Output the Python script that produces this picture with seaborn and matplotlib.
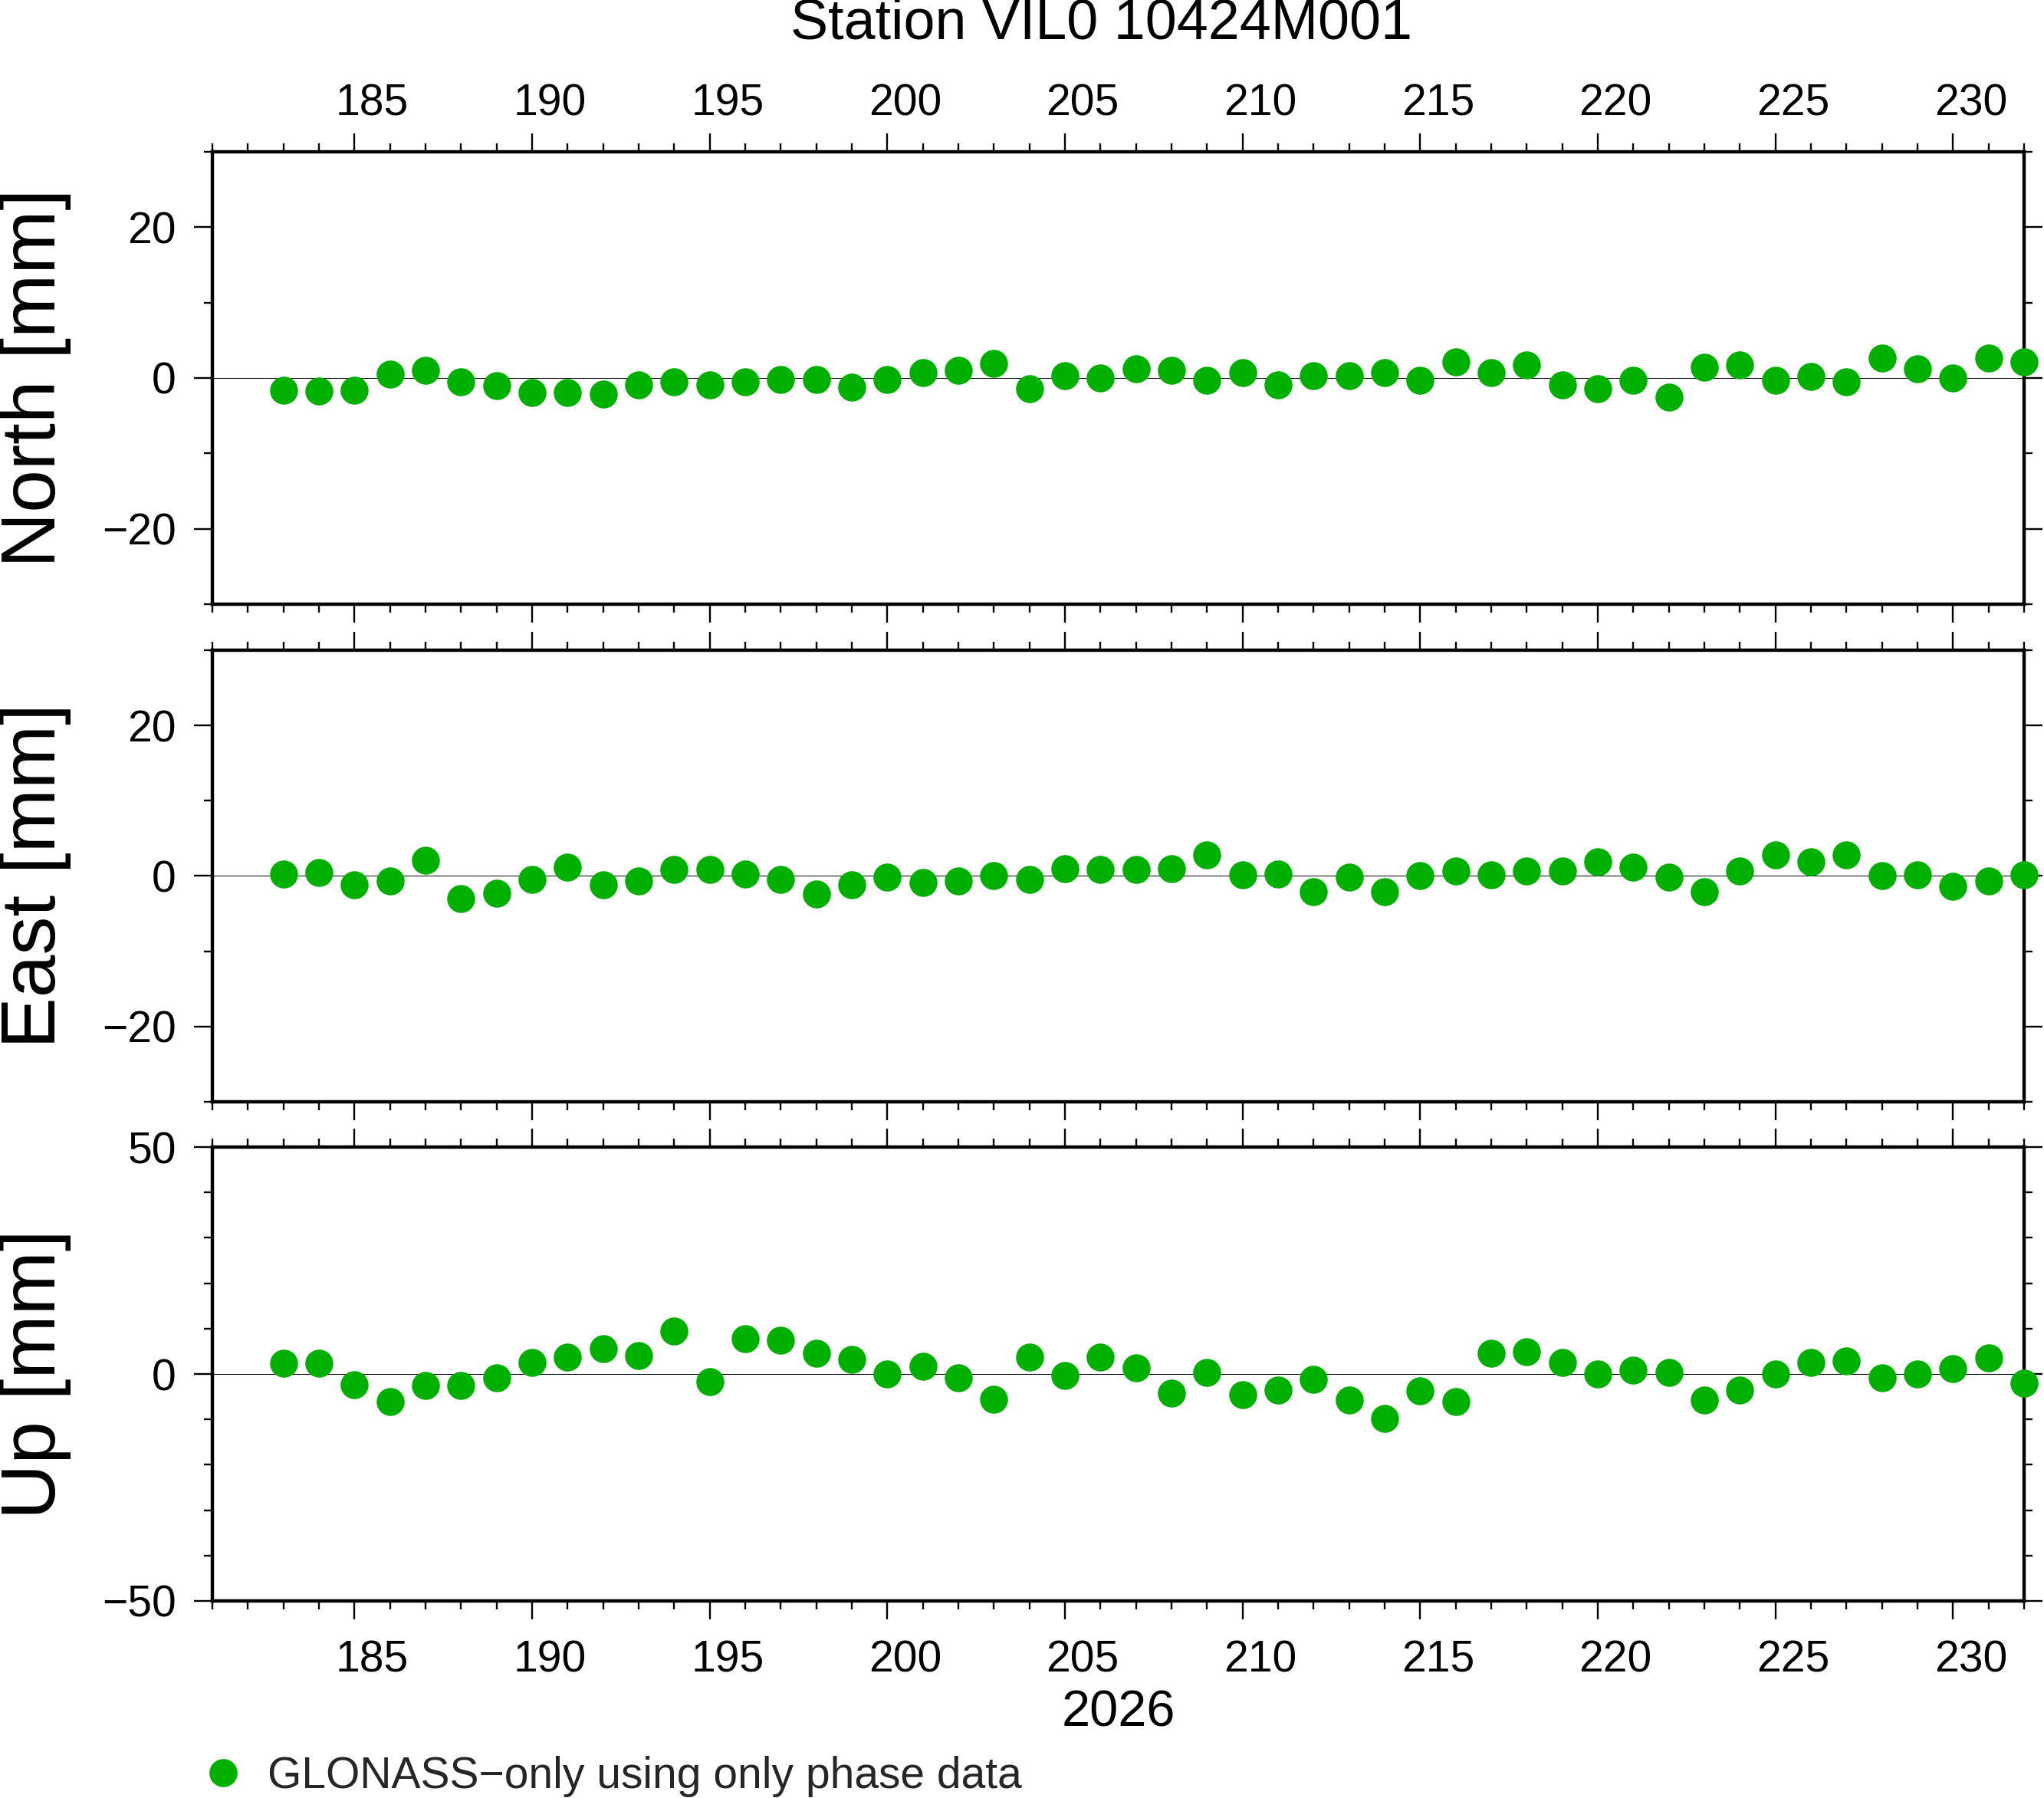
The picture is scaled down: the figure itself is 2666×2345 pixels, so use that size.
import numpy as np
import pandas as pd
import matplotlib
matplotlib.use("Agg")
import matplotlib.pyplot as plt
import matplotlib.transforms as mtransforms
from matplotlib.ticker import MultipleLocator
import seaborn as sns

# day of year 2026
day = list(range(183, 233))
north = [-1.6, -1.7, -1.6, 0.5, 1.0, -0.5, -1.0, -1.9, -1.9, -2.1,
         -0.9, -0.5, -0.9, -0.5, -0.2, -0.2, -1.2, -0.2, 0.7, 1.0,
         1.9, -1.4, 0.3, 0.0, 1.2, 1.0, -0.3, 0.7, -0.9, 0.3,
         0.3, 0.7, -0.3, 2.1, 0.7, 1.7, -0.9, -1.4, -0.3, -2.6,
         1.4, 1.7, -0.3, 0.2, -0.5, 2.6, 1.2, 0.0, 2.6, 2.1]
east = [0.3, 0.5, -1.2, -0.7, 2.1, -3.0, -2.3, -0.5, 1.2, -1.2,
        -0.7, 0.9, 0.9, 0.3, -0.5, -2.4, -1.2, -0.2, -0.9, -0.7,
        0.0, -0.5, 1.0, 0.9, 0.9, 1.0, 2.8, 0.2, 0.3, -2.1,
        -0.2, -2.1, 0.0, 0.7, 0.2, 0.7, 0.7, 1.9, 1.2, -0.2,
        -2.1, 0.7, 2.8, 1.9, 2.8, 0.0, 0.2, -1.4, -0.7, 0.2]
up = [2.3, 2.3, -2.3, -6.0, -2.6, -2.6, -0.9, 2.6, 3.7, 5.5,
      4.0, 9.5, -1.7, 7.8, 7.5, 4.6, 3.2, 0.0, 1.7, -0.9,
      -5.5, 3.7, -0.3, 3.7, 1.4, -4.3, 0.3, -4.6, -3.5, -1.2,
      -5.8, -9.8, -3.7, -6.0, 4.6, 4.9, 2.6, 0.0, 0.9, 0.3,
      -5.8, -3.5, 0.0, 2.6, 2.9, -0.9, 0.0, 1.2, 3.5, -2.0]

components = ["North", "East", "Up"]
ylims = [(-30, 30), (-30, 30), (-50, 50)]
ymajor = [20, 20, 50]
title = "Station VIL0 10424M001"
year_label = "2026"
legend_label = "GLONASS\u2212only using only phase data"

sns.set_theme(style="white")
plt.rcParams['font.family'] = ['Liberation Sans', 'DejaVu Sans']

df = pd.DataFrame({"day": day, "North": north, "East": east, "Up": up})
green = "#00b000"

fig = plt.figure(figsize=(26.66, 23.45), dpi=100)
left, right = 0.1039, 0.9902
panels = [(0.6640, 0.9156), (0.3872, 0.6384), (0.1096, 0.3620)]

# day labels sit in the middle of the day interval (half a day right of the tick)
half_day = mtransforms.ScaledTranslation(0.232, 0, fig.dpi_scale_trans)

axes = []
for i, comp in enumerate(components):
    b, t = panels[i]
    ax = fig.add_axes([left, b, right - left, t - b])
    ax.axhline(0, color="black", lw=0.7, zorder=1)
    sns.scatterplot(data=df, x="day", y=comp, ax=ax, color=green, s=690,
                    linewidth=0, clip_on=False, zorder=10, legend=False)
    ax.set_xlim(181, 232)
    ax.set_ylim(*ylims[i])
    ax.xaxis.set_major_locator(MultipleLocator(5))
    ax.xaxis.set_minor_locator(MultipleLocator(1))
    ax.yaxis.set_major_locator(MultipleLocator(ymajor[i]))
    ax.yaxis.set_minor_locator(MultipleLocator(10))
    for s in ax.spines.values():
        s.set_color("black")
        s.set_linewidth(3.2)
    ax.tick_params(which="both", direction="out", top=True, bottom=True,
                   left=True, right=True, width=1.7, color="black",
                   labelsize=41, pad=17, labelcolor="black")
    ax.tick_params(which="major", length=17)
    ax.tick_params(which="minor", length=8)
    ax.tick_params(axis="x", labeltop=(i == 0), labelbottom=(i == 2),
                   pad=8.5 if i == 0 else 19.5)
    ax.set_xlabel("")
    ax.set_ylabel(f"{comp} [mm]", fontsize=72, color="black")
    ax.yaxis.set_label_coords(-0.078, 0.5)
    ax.grid(False)
    for tick in ax.xaxis.get_major_ticks():
        tick.label1.set_transform(tick.label1.get_transform() + half_day)
        tick.label2.set_transform(tick.label2.get_transform() + half_day)
    axes.append(ax)

axes[2].set_xlabel(year_label, fontsize=48, color="black", labelpad=8)

fig.text(0.539, 0.9868, title, ha="center", va="center", fontsize=53,
         color="black")

handles = [plt.Line2D([], [], marker="o", ls="none", color=green,
                      markersize=26.4, markeredgewidth=0)]
fig.legend(handles, [legend_label], loc="center left",
           bbox_to_anchor=(0.0983, 0.0120), frameon=False, fontsize=41,
           handlelength=1.0, handletextpad=0.52, borderpad=0,
           borderaxespad=0)

fig.savefig("out.png", dpi=100)
